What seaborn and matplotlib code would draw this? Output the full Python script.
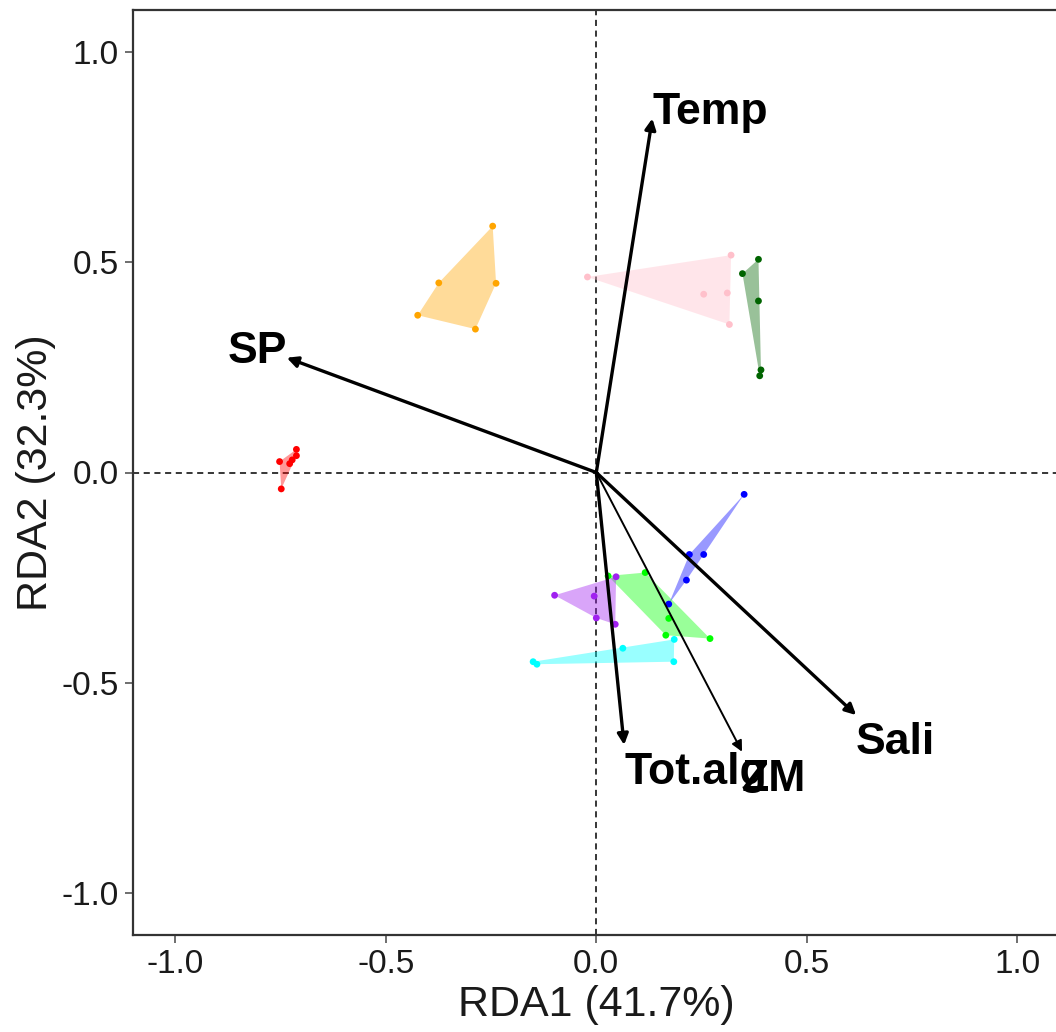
import numpy as np
import pandas as pd
import matplotlib
matplotlib.use("Agg")
import matplotlib.pyplot as plt
import seaborn as sns
from matplotlib.patches import Polygon, FancyArrowPatch

# ---- site scores (RDA1, RDA2) by group ----
grp_red_x = [-0.712, -0.712, -0.752, -0.728, -0.748, -0.722]
grp_red_y = [0.055, 0.040, 0.026, 0.021, -0.039, 0.030]
grp_orange_x = [-0.246, -0.374, -0.238, -0.424, -0.287]
grp_orange_y = [0.586, 0.451, 0.450, 0.374, 0.341]
grp_pink_x = [-0.021, 0.320, 0.255, 0.311, 0.316]
grp_pink_y = [0.465, 0.517, 0.424, 0.427, 0.352]
grp_dkgreen_x = [0.385, 0.347, 0.385, 0.391, 0.388]
grp_dkgreen_y = [0.507, 0.473, 0.408, 0.244, 0.230]
grp_blue_x = [0.351, 0.221, 0.255, 0.214, 0.172]
grp_blue_y = [-0.052, -0.195, -0.195, -0.256, -0.313]
grp_green_x = [0.028, 0.116, 0.172, 0.165, 0.270]
grp_green_y = [-0.246, -0.238, -0.347, -0.387, -0.395]
grp_purple_x = [-0.099, -0.005, 0.000, 0.045, 0.047]
grp_purple_y = [-0.292, -0.294, -0.346, -0.361, -0.248]
grp_cyan_x = [-0.150, -0.141, 0.063, 0.185, 0.184]
grp_cyan_y = [-0.450, -0.456, -0.418, -0.397, -0.450]

groups = ["red", "orange", "pink", "darkgreen", "blue", "green", "purple", "cyan"]
group_x = [grp_red_x, grp_orange_x, grp_pink_x, grp_dkgreen_x,
           grp_blue_x, grp_green_x, grp_purple_x, grp_cyan_x]
group_y = [grp_red_y, grp_orange_y, grp_pink_y, grp_dkgreen_y,
           grp_blue_y, grp_green_y, grp_purple_y, grp_cyan_y]
group_colors = ["#FF0000", "#FFA500", "#FFC0CB", "#006400",
                "#0000FF", "#00FF00", "#A020F0", "#00FFFF"]

# ---- environmental vectors ----
env_names = ["Temp", "SP", "Sali", "Tot.alg", "ZM"]
env_x = [0.133, -0.735, 0.617, 0.066, 0.346]
env_y = [0.842, 0.273, -0.577, -0.648, -0.664]
env_width = [2.4, 2.4, 2.4, 2.4, 1.4]

xlabel = "RDA1 (41.7%)"
ylabel = "RDA2 (32.3%)"
ticks = [-1.0, -0.5, 0.0, 0.5, 1.0]

rows = []
for g, xs, ys in zip(groups, group_x, group_y):
    for a, b in zip(xs, ys):
        rows.append({"group": g, "RDA1": a, "RDA2": b})
df = pd.DataFrame(rows)

sns.set_theme(style="white")
plt.rcParams["font.family"] = ["Liberation Sans", "DejaVu Sans"]

fig = plt.figure(figsize=(10.56, 10.32), dpi=100)
ax = fig.add_axes([133 / 1056, 1 - 935 / 1032, (1059.6 - 133) / 1056, (935 - 10) / 1032])


def hull(points):
    pts = sorted(set(points))
    if len(pts) <= 2:
        return pts
    def cross(o, a, b):
        return (a[0] - o[0]) * (b[1] - o[1]) - (a[1] - o[1]) * (b[0] - o[0])
    lower = []
    for p in pts:
        while len(lower) >= 2 and cross(lower[-2], lower[-1], p) <= 0:
            lower.pop()
        lower.append(p)
    upper = []
    for p in reversed(pts):
        while len(upper) >= 2 and cross(upper[-2], upper[-1], p) <= 0:
            upper.pop()
        upper.append(p)
    return lower[:-1] + upper[:-1]


for g, col in zip(groups, group_colors):
    sub = df[df.group == g]
    h = hull(list(zip(sub.RDA1, sub.RDA2)))
    ax.add_patch(Polygon(h, closed=True, facecolor=col, edgecolor="none", alpha=0.4, zorder=1))

sns.scatterplot(data=df, x="RDA1", y="RDA2", hue="group", palette=dict(zip(groups, group_colors)),
                s=24, edgecolor="none", legend=False, ax=ax, zorder=2)

ax.axhline(0, color="black", lw=1.1, ls=(0, (4, 3)), zorder=0.5)
ax.axvline(0, color="black", lw=1.1, ls=(0, (4, 3)), zorder=0.5)

for name, ex, ey, w in zip(env_names, env_x, env_y, env_width):
    arr = FancyArrowPatch((0, 0), (ex, ey), arrowstyle="-|>", mutation_scale=16,
                          color="black", lw=w, shrinkA=0, shrinkB=0, zorder=3)
    ax.add_patch(arr)
    ha = "left" if ex > 0 else "right"
    if ey > 0:
        va, dy = "baseline", -4
    else:
        va, dy = "top", -5
    ax.annotate(name, (ex, ey), xytext=(0, dy), textcoords="offset points",
                ha=ha, va=va, fontsize=32, fontweight="bold", color="black", zorder=4)

ax.set_xlim(-1.1, 1.1)
ax.set_ylim(-1.1, 1.1)
ax.set_xticks(ticks)
ax.set_yticks(ticks)
ax.set_xticklabels([f"{t:.1f}" for t in ticks])
ax.set_yticklabels([f"{t:.1f}" for t in ticks])
ax.tick_params(axis="both", which="both", direction="out", length=6, width=1.2,
               color="#555555", labelsize=24, labelcolor="#1a1a1a", pad=4,
               bottom=True, left=True)
ax.set_xlabel(xlabel, fontsize=31, color="#1a1a1a", labelpad=4)
ax.set_ylabel(ylabel, fontsize=31, color="#1a1a1a", labelpad=4)
for sp in ax.spines.values():
    sp.set_color("#333333")
    sp.set_linewidth(1.6)
ax.grid(False)

fig.savefig("out.png", dpi=100)
